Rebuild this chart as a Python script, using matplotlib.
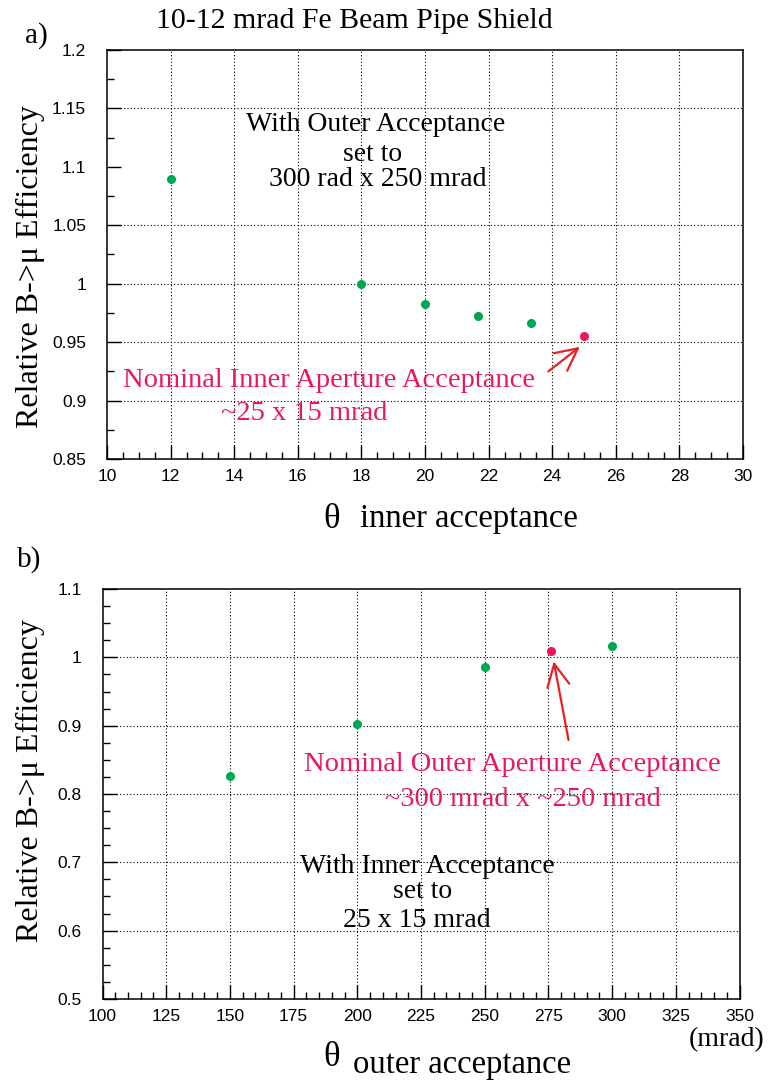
import matplotlib
matplotlib.use("Agg")
import matplotlib.pyplot as plt
from matplotlib.ticker import MultipleLocator

# Efficiency vs inner acceptance (outer fixed)
inner_theta = [12, 18, 20, 21.67, 23.33]
inner_eff = [1.090, 1.000, 0.983, 0.972, 0.966]
inner_nominal_theta = [25]
inner_nominal_eff = [0.955]

# Efficiency vs outer acceptance (inner fixed)
outer_theta = [150, 200, 250, 300]
outer_eff = [0.827, 0.903, 0.986, 1.017]
outer_nominal_theta = [276]
outer_nominal_eff = [1.009]

GREEN = "#00a651"
PINK = "#e8195a"
RED = "#e82222"
SERIF = "Liberation Serif"
SANS = "Liberation Sans"
W, H = 768, 1084

fig = plt.figure(figsize=(W / 100, H / 100), dpi=100)


def frame(px_l, px_r, px_t, px_b):
    return fig.add_axes([px_l / W, 1 - px_b / H, (px_r - px_l) / W, (px_b - px_t) / H])


def style_axes(ax):
    for s in ax.spines.values():
        s.set_linewidth(1.1)
        s.set_color("black")
    ax.tick_params(which="both", direction="in", top=False, right=False,
                   labelsize=12.5, width=1.0)
    ax.tick_params(which="major", length=10)
    ax.tick_params(which="minor", length=5)
    ax.tick_params(axis="x", pad=7)
    ax.tick_params(axis="y", pad=15)
    for lab in ax.get_xticklabels() + ax.get_yticklabels():
        lab.set_fontfamily(SANS)


grid_kw = dict(color="black", linestyle=(0, (1, 2)), linewidth=0.8, zorder=0.5)
arrow_kw = dict(arrowstyle="->,head_length=0.8,head_width=0.4",
                color=RED, lw=1.6, shrinkA=0, shrinkB=0, mutation_scale=20)

# ---------------- panel a ----------------
ax1 = frame(107, 743, 50, 459)
ax1.set_xlim(10, 30)
ax1.set_ylim(0.85, 1.2)
ax1.xaxis.set_major_locator(MultipleLocator(2))
ax1.xaxis.set_minor_locator(MultipleLocator(0.5))
ax1.set_yticks([0.85, 0.9, 0.95, 1.0, 1.05, 1.1, 1.15, 1.2])
ax1.set_yticklabels(["0.85", "0.9", "0.95", "1", "1.05", "1.1", "1.15", "1.2"])
ax1.yaxis.set_minor_locator(MultipleLocator(0.025))
style_axes(ax1)
for xv in range(12, 30, 2):
    ax1.axvline(xv, **grid_kw)
for yv in [0.9, 0.95, 1.0, 1.05, 1.15]:
    ax1.axhline(yv, **grid_kw)

ax1.plot(inner_theta, inner_eff, "o", color=GREEN, markersize=5.5, zorder=3)
ax1.plot(inner_nominal_theta, inner_nominal_eff, "o", color=PINK, markersize=5.5, zorder=3)

for txt, x, y in [("With Outer Acceptance", 18.46, 1.131),
                  ("set to", 18.35, 1.105),
                  ("300 rad x 250 mrad", 18.5, 1.084)]:
    ax1.text(x, y, txt, ha="center", va="baseline", fontsize=20, family=SERIF)
ax1.text(16.98, 0.912, "Nominal Inner Aperture Acceptance", ha="center",
         va="baseline", fontsize=20.5, family=SERIF, color=PINK)
ax1.text(16.2, 0.883, "~25 x 15 mrad", ha="center", va="baseline",
         fontsize=20.5, family=SERIF, color=PINK)
ax1.annotate("", xy=(24.87, 0.946), xytext=(23.88, 0.925), arrowprops=arrow_kw)

# ---------------- panel b ----------------
ax2 = frame(102.5, 739.5, 589, 999)
ax2.set_xlim(100, 350)
ax2.set_ylim(0.5, 1.1)
ax2.xaxis.set_major_locator(MultipleLocator(25))
ax2.xaxis.set_minor_locator(MultipleLocator(5))
ax2.set_yticks([0.5, 0.6, 0.7, 0.8, 0.9, 1.0, 1.1])
ax2.set_yticklabels(["0.5", "0.6", "0.7", "0.8", "0.9", "1", "1.1"])
ax2.yaxis.set_minor_locator(MultipleLocator(0.025))
style_axes(ax2)
for xv in range(125, 350, 25):
    ax2.axvline(xv, **grid_kw)
for yv in [0.6, 0.7, 0.8, 0.9, 1.0]:
    ax2.axhline(yv, **grid_kw)

ax2.plot(outer_theta, outer_eff, "o", color=GREEN, markersize=5.5, zorder=3)
ax2.plot(outer_nominal_theta, outer_nominal_eff, "o", color=PINK, markersize=5.5, zorder=3)

ax2.text(261, 0.834, "Nominal Outer Aperture Acceptance", ha="center",
         va="baseline", fontsize=20.5, family=SERIF, color=PINK)
ax2.text(265, 0.782, "~300 mrad x ~250 mrad", ha="center", va="baseline",
         fontsize=20.5, family=SERIF, color=PINK)
for txt, x, y in [("With Inner Acceptance", 227.4, 0.6846),
                  ("set to", 225.6, 0.6471),
                  ("25 x 15 mrad", 223.5, 0.6056)]:
    ax2.text(x, y, txt, ha="center", va="baseline", fontsize=20, family=SERIF)
ax2.annotate("", xy=(277.1, 0.994), xytext=(282.9, 0.879), arrowprops=arrow_kw)

# ---------------- figure-level labels ----------------
def ftext(px, py, s, **kw):
    fig.text(px / W, 1 - py / H, s, family=SERIF, **kw)


ftext(354.5, 28.3, "10-12 mrad Fe Beam Pipe Shield", ha="center", va="baseline", fontsize=21.5)
ftext(25, 42.7, "a)", ha="left", va="baseline", fontsize=21)
ftext(17, 566.7, "b)", ha="left", va="baseline", fontsize=21)

ftext(30, 267, "Relative B->\u03bc Efficiency", ha="center", va="center",
      rotation=90, fontsize=23)
ftext(30, 781, "Relative B->\u03bc Efficiency", ha="center", va="center",
      rotation=90, fontsize=23)

ftext(323, 528, "\u03b8", ha="left", va="baseline", fontsize=25)
ftext(360, 527, "inner acceptance", ha="left", va="baseline", fontsize=23.5)
ftext(323, 1066, "\u03b8", ha="left", va="baseline", fontsize=25)
ftext(353, 1073, "outer acceptance", ha="left", va="baseline", fontsize=23.5)
ftext(765, 1046, "(mrad)", ha="right", va="baseline", fontsize=20)

fig.savefig("out.png", dpi=100)
